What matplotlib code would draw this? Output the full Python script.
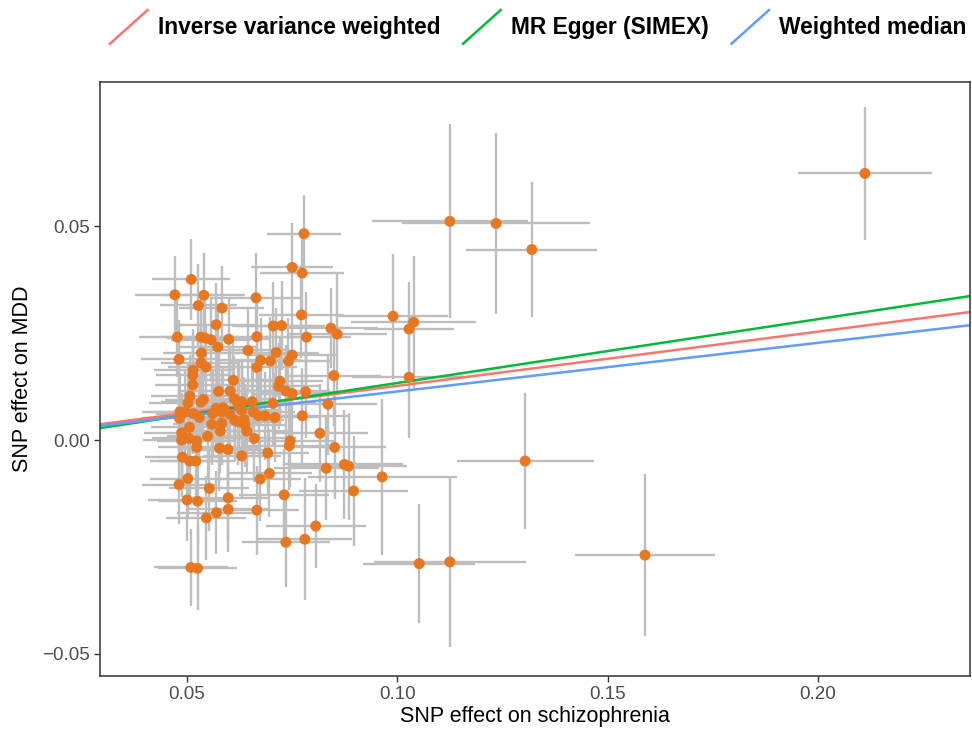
import matplotlib
matplotlib.use("Agg")
import matplotlib.pyplot as plt
from matplotlib.lines import Line2D
from matplotlib.legend_handler import HandlerBase

plt.rcParams['font.family'] = ['Liberation Sans', 'DejaVu Sans']

# SNP effects (exposure = schizophrenia, outcome = MDD)
bx = [0.0778, 0.0750, 0.0774, 0.0510, 0.0471, 0.0540, 0.0527, 0.0583, 0.0664, 0.0772,
      0.0569, 0.0705, 0.0725, 0.0842, 0.0857, 0.0477, 0.0533, 0.0543, 0.0557, 0.0599,
      0.0666, 0.0784, 0.0573, 0.0645, 0.0990, 0.1039, 0.1028, 0.1028, 0.0849, 0.0712,
      0.0750, 0.0741, 0.0675, 0.0698, 0.0666, 0.0721, 0.0718, 0.0735, 0.0750, 0.0782,
      0.0835, 0.0704, 0.0655, 0.0630, 0.0658, 0.0686, 0.0670, 0.0709, 0.0774, 0.0638,
      0.0642, 0.0660, 0.0816, 0.0745, 0.0743, 0.0851, 0.0692, 0.0630, 0.0831, 0.0874,
      0.0884, 0.0696, 0.0964, 0.0674, 0.0534, 0.0481, 0.0533, 0.0545, 0.0515, 0.0514,
      0.0610, 0.0575, 0.0602, 0.0514, 0.0507, 0.0612, 0.0620, 0.0539, 0.0533, 0.0502,
      0.0483, 0.0495, 0.0569, 0.0586, 0.0561, 0.0583, 0.0624, 0.0630, 0.0515, 0.0529,
      0.0482, 0.0601, 0.0613, 0.0621, 0.0636, 0.0559, 0.0583, 0.0506, 0.0579, 0.0487,
      0.0487, 0.0505, 0.0523, 0.0549, 0.0523, 0.0577, 0.0597, 0.0489, 0.0506, 0.0521,
      0.0502, 0.0481, 0.0553, 0.0500, 0.0525, 0.0598, 0.0731, 0.0598, 0.0570, 0.0546,
      0.0666, 0.0806, 0.0735, 0.0780, 0.0896, 0.0509, 0.0525, 0.2112, 0.1125, 0.1235,
      0.1320, 0.1304, 0.1589, 0.1125, 0.1052]
by = [0.0483, 0.0404, 0.0391, 0.0376, 0.0340, 0.0339, 0.0315, 0.0309, 0.0333, 0.0293,
      0.0270, 0.0267, 0.0268, 0.0262, 0.0248, 0.0241, 0.0241, 0.0239, 0.0235, 0.0236,
      0.0242, 0.0241, 0.0218, 0.0210, 0.0290, 0.0276, 0.0260, 0.0147, 0.0151, 0.0205,
      0.0199, 0.0185, 0.0187, 0.0185, 0.0170, 0.0138, 0.0126, 0.0115, 0.0109, 0.0113,
      0.0084, 0.0086, 0.0090, 0.0090, 0.0066, 0.0057, 0.0057, 0.0053, 0.0057, 0.0035,
      0.0021, 0.0004, 0.0016, -0.0002, -0.0013, -0.0017, -0.0030, -0.0037, -0.0066, -0.0057,
      -0.0061, -0.0078, -0.0086, -0.0091, 0.0204, 0.0189, 0.0181, 0.0171, 0.0164, 0.0152,
      0.0140, 0.0114, 0.0115, 0.0129, 0.0103, 0.0097, 0.0090, 0.0095, 0.0089, 0.0087,
      0.0066, 0.0066, 0.0074, 0.0076, 0.0062, 0.0066, 0.0079, 0.0070, 0.0062, 0.0053,
      0.0051, 0.0061, 0.0047, 0.0043, 0.0048, 0.0037, 0.0040, 0.0030, 0.0021, 0.0017,
      0.0000, 0.0004, -0.0002, 0.0009, -0.0017, -0.0019, -0.0022, -0.0040, -0.0049, -0.0049,
      -0.0090, -0.0104, -0.0113, -0.0140, -0.0143, -0.0135, -0.0128, -0.0162, -0.0170, -0.0182,
      -0.0164, -0.0201, -0.0239, -0.0232, -0.0119, -0.0298, -0.0300, 0.0624, 0.0512, 0.0507,
      0.0446, -0.0049, -0.0269, -0.0285, -0.0289]
se_bx = [0.0089, 0.0098, 0.0100, 0.0093, 0.0095, 0.0097, 0.0092, 0.0101, 0.0104, 0.0102,
         0.0096, 0.0099, 0.0103, 0.0112, 0.0118, 0.0091, 0.0094, 0.0090, 0.0096, 0.0098,
         0.0101, 0.0105, 0.0093, 0.0100, 0.0130, 0.0148, 0.0107, 0.0135, 0.0113, 0.0102,
         0.0104, 0.0099, 0.0097, 0.0101, 0.0095, 0.0103, 0.0100, 0.0106, 0.0098, 0.0109,
         0.0117, 0.0102, 0.0096, 0.0094, 0.0099, 0.0101, 0.0097, 0.0104, 0.0110, 0.0095,
         0.0098, 0.0100, 0.0114, 0.0106, 0.0103, 0.0121, 0.0099, 0.0093, 0.0125, 0.0140,
         0.0138, 0.0102, 0.0177, 0.0097, 0.0092, 0.0090, 0.0094, 0.0091, 0.0093, 0.0089,
         0.0096, 0.0092, 0.0098, 0.0090, 0.0093, 0.0097, 0.0095, 0.0091, 0.0094, 0.0092,
         0.0089, 0.0091, 0.0095, 0.0093, 0.0096, 0.0094, 0.0099, 0.0097, 0.0090, 0.0093,
         0.0088, 0.0096, 0.0094, 0.0098, 0.0095, 0.0092, 0.0095, 0.0091, 0.0093, 0.0090,
         0.0092, 0.0089, 0.0094, 0.0096, 0.0091, 0.0097, 0.0095, 0.0090, 0.0093, 0.0092,
         0.0091, 0.0089, 0.0095, 0.0092, 0.0094, 0.0098, 0.0107, 0.0096, 0.0093, 0.0095,
         0.0101, 0.0119, 0.0104, 0.0112, 0.0130, 0.0088, 0.0093, 0.0160, 0.0185, 0.0224,
         0.0156, 0.0163, 0.0166, 0.0180, 0.0133]
se_by = [0.0091, 0.0103, 0.0100, 0.0094, 0.0090, 0.0099, 0.0096, 0.0098, 0.0104, 0.0101,
         0.0097, 0.0102, 0.0105, 0.0094, 0.0142, 0.0093, 0.0097, 0.0095, 0.0099, 0.0096,
         0.0103, 0.0106, 0.0098, 0.0101, 0.0146, 0.0154, 0.0110, 0.0143, 0.0117, 0.0104,
         0.0102, 0.0100, 0.0099, 0.0103, 0.0097, 0.0105, 0.0101, 0.0108, 0.0100, 0.0109,
         0.0118, 0.0102, 0.0098, 0.0096, 0.0100, 0.0103, 0.0099, 0.0105, 0.0111, 0.0097,
         0.0100, 0.0102, 0.0115, 0.0107, 0.0104, 0.0120, 0.0101, 0.0095, 0.0122, 0.0128,
         0.0125, 0.0103, 0.0183, 0.0099, 0.0096, 0.0093, 0.0098, 0.0095, 0.0097, 0.0094,
         0.0100, 0.0096, 0.0101, 0.0093, 0.0097, 0.0099, 0.0098, 0.0095, 0.0097, 0.0094,
         0.0092, 0.0095, 0.0099, 0.0097, 0.0100, 0.0098, 0.0102, 0.0100, 0.0094, 0.0097,
         0.0092, 0.0099, 0.0097, 0.0101, 0.0099, 0.0096, 0.0098, 0.0095, 0.0097, 0.0093,
         0.0096, 0.0094, 0.0098, 0.0100, 0.0095, 0.0101, 0.0099, 0.0094, 0.0097, 0.0096,
         0.0095, 0.0093, 0.0099, 0.0096, 0.0098, 0.0102, 0.0108, 0.0100, 0.0097, 0.0099,
         0.0104, 0.0098, 0.0104, 0.0143, 0.0128, 0.0091, 0.0098, 0.0155, 0.0227, 0.0211,
         0.0157, 0.0160, 0.0190, 0.0200, 0.0140]

# MR estimates (intercept, slope)
methods = ["Inverse variance weighted", "MR Egger (SIMEX)", "Weighted median"]
intercepts = [0.0, -0.00158, 0.0]
slopes = [0.1269, 0.1494, 0.1138]
colors = ["#F8766D", "#00BA38", "#619CFF"]


class DiagonalKey(HandlerBase):
    # ggplot-style abline key: a diagonal stroke
    def create_artists(self, legend, orig_handle, xdescent, ydescent,
                       width, height, fontsize, trans):
        ln = Line2D([-xdescent, -xdescent + width], [-ydescent, -ydescent + height],
                    color=orig_handle.get_color(), lw=orig_handle.get_linewidth(),
                    transform=trans)
        return [ln]


fig = plt.figure(figsize=(9.72, 7.3), dpi=100)
ax = fig.add_axes([100 / 972, 54 / 730, 870 / 972, 594 / 730])

ax.errorbar(bx, by, xerr=se_bx, yerr=se_by, fmt="none", ecolor="#BEBEBE",
            elinewidth=1.7, capsize=0, zorder=1)

handles = []
for name, a, b, c in zip(methods, intercepts, slopes, colors):
    ax.axline((0, a), slope=b, color=c, lw=1.8, zorder=2)
    handles.append(Line2D([], [], color=c, lw=1.8, label=name))

ax.scatter(bx, by, s=62, color="#E87722", edgecolors="none", zorder=3)

ax.set_xlim(0.0293, 0.2362)
ax.set_ylim(-0.0552, 0.0838)
ax.set_xticks([0.05, 0.10, 0.15, 0.20])
ax.set_xticklabels(["0.05", "0.10", "0.15", "0.20"])
ax.set_yticks([-0.05, 0.00, 0.05])
ax.set_yticklabels(["\u22120.05", "0.00", "0.05"])
ax.tick_params(colors="#333333", labelcolor="#4D4D4D", labelsize=13.5,
               length=4, width=1)
for s in ax.spines.values():
    s.set_color("#333333")
    s.set_linewidth(1.1)

ax.set_xlabel("SNP effect on schizophrenia", fontsize=15.5, labelpad=2)
ax.set_ylabel("SNP effect on MDD", fontsize=15.5, labelpad=6)

fig.legend(handles=handles, labels=methods, handler_map={Line2D: DiagonalKey()},
           loc="upper left", bbox_to_anchor=(110 / 972, 1 - 10 / 730), ncol=3,
           frameon=False, prop={"weight": "bold", "size": 16.4},
           handlelength=1.65, handleheight=1.9, handletextpad=0.45,
           columnspacing=1.0, borderaxespad=0, borderpad=0)

fig.savefig("out.png", dpi=100)
